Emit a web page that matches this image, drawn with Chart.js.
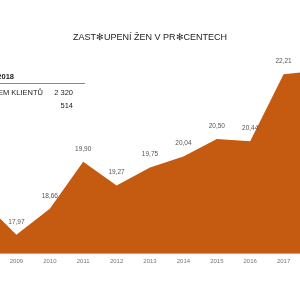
<!DOCTYPE html>
<html>
<head>
<meta charset="utf-8">
<script src="https://cdn.jsdelivr.net/npm/chart.js@4"></script>
<style>
  html, body { margin: 0; padding: 0; background: #fff; }
  #wrap { position: relative; width: 300px; height: 300px; overflow: hidden; font-family: "Liberation Sans", Arial, sans-serif; }
  #myChart { position: absolute; left: -40px; top: 0; }
  .tbl { position: absolute; white-space: nowrap; font-size: 7.5px; color: #222; }
</style>
</head>
<body>
<div id="wrap">
  <canvas id="myChart" width="380" height="300"></canvas>
  <div class="tbl" style="right:286px; top:72px; font-weight:bold;">2018</div>
  <div style="position:absolute; left:0; top:83px; width:85px; height:1px; background:#8a8a8a;"></div>
  <div class="tbl" style="right:257px; top:88px;">CELKEM KLIENTŮ</div>
  <div class="tbl" style="right:227px; top:88px;">2 320</div>
  <div class="tbl" style="right:227px; top:101px;">514</div>
</div>
<script>
const years = ['2008', '2009', '2010', '2011', '2012', '2013', '2014', '2015', '2016', '2017', '2018'];
const womenShare = [18.85, 17.97, 18.66, 19.90, 19.27, 19.75, 20.04, 20.50, 20.44, 22.21, 22.30];

const valueLabels = {
    id: 'valueLabels',
    afterDatasetsDraw(chart) {
        const c = chart.ctx;
        const meta = chart.getDatasetMeta(0);
        c.save();
        c.font = '6.5px "Liberation Sans", Arial, sans-serif';
        c.fillStyle = '#555';
        c.textAlign = 'center';
        c.textBaseline = 'middle';
        meta.data.forEach((pt, i) => {
            c.fillText(womenShare[i].toFixed(2).replace('.', ','), pt.x, pt.y - 13);
        });
        c.restore();
    }
};

const ctx = document.getElementById('myChart');

new Chart(ctx, {
    type: 'line',
    data: {
        labels: years,
        datasets: [{
            data: womenShare,
            fill: 'start',
            backgroundColor: '#c55a11',
            borderColor: '#c55a11',
            borderWidth: 0,
            pointRadius: 0,
            tension: 0
        }]
    },
    options: {
        responsive: false,
        animation: false,
        devicePixelRatio: 1,
        layout: {
            padding: { left: 23, right: 23, top: 0, bottom: 31 }
        },
        plugins: {
            legend: { display: false },
            tooltip: { enabled: false },
            title: {
                display: true,
                text: 'ZAST✻UPENÍ ŽEN V PR✻CENTECH',
                color: '#222',
                font: { family: '"Liberation Sans", Arial, sans-serif', size: 9, weight: 'normal' },
                padding: { top: 32, bottom: 17 }
            }
        },
        scales: {
            x: {
                grid: { display: false, drawTicks: false },
                border: { display: true, color: '#f2c9a9', width: 1 },
                ticks: {
                    color: '#777',
                    padding: 4,
                    maxRotation: 0,
                    autoSkip: false,
                    font: { family: '"Liberation Sans", Arial, sans-serif', size: 6 }
                }
            },
            y: {
                display: false,
                min: 17.47,
                max: 22.59
            }
        }
    },
    plugins: [valueLabels]
});
</script>
</body>
</html>
